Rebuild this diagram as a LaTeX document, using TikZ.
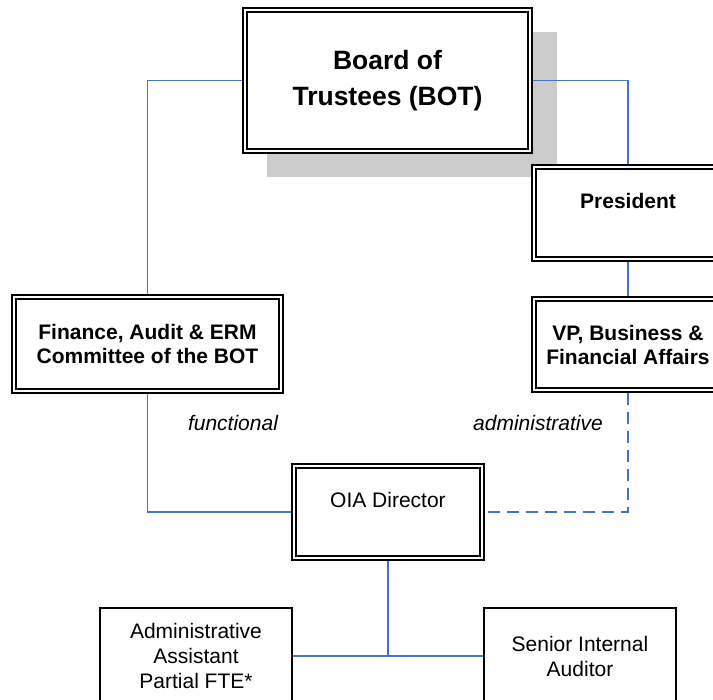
\documentclass[tikz,border=0pt]{standalone}
\usepackage{fontspec}
\setmainfont{Liberation Sans}
\definecolor{linkblue}{RGB}{68,114,196}
\definecolor{shadowgray}{RGB}{204,204,204}

\begin{document}
\begin{tikzpicture}[x=1pt, y=-1pt,
    box/.style={draw, line width=1.5pt, align=center, inner sep=0pt,
        font=\fontsize{21}{25}\selectfont},
    dbox/.style={draw, fill=white, line width=1.2pt, align=center, inner sep=0pt,
        font=\bfseries\fontsize{21}{24}\selectfont,
        path picture={\draw[line width=2.4pt]
            ([shift={(3.8pt,3.8pt)}]path picture bounding box.south west) rectangle
            ([shift={(-3.8pt,-3.8pt)}]path picture bounding box.north east);}},
    link/.style={draw=linkblue, line width=1.5pt},
    tag/.style={font=\itshape\fontsize{21}{25}\selectfont}]
            \useasboundingbox (0, 0) rectangle (713, 700);

            \fill[shadowgray] (267, 32) rectangle (557, 177);

            \node[dbox,minimum width=289pt,minimum height=145pt,font=\bfseries\fontsize{26.5}{36}\selectfont] (BOT) at (387.5, 80.5) { Board of\\ Trustees (BOT) };
            \node[dbox,minimum width=192pt,minimum height=96pt] (PRES) at (628, 213) { President\\ \mbox{} };
            \node[dbox,minimum width=192pt,minimum height=95pt] (VP) at (628, 344.5) { VP, Business \&\\ Financial Affairs };
            \node[dbox,minimum width=271pt,minimum height=98pt] (FAC) at (147.5, 344) { Finance, Audit \& ERM\\ Committee of the BOT };
            \node[dbox,minimum width=192pt,minimum height=96pt,font=\fontsize{21}{24}\selectfont] (OIA) at (388, 512) { OIA Director\\ \mbox{} };

            \node[box,minimum width=192pt,minimum height=96pt] (AA) at (196, 656) { Administrative\\ Assistant\\ Partial FTE* };
            \node[box,minimum width=192pt,minimum height=96pt] (SIA) at (580, 656) { Senior Internal\\ Auditor };

            \node[tag] (FN) at (233, 423) { functional };
            \node[tag] (AD) at (538, 423) { administrative };

            \draw[link] (BOT.west) -| (FAC.north);
            \draw[link] (BOT.east) -| (PRES.north);
            \draw[link] (PRES) to (VP);
            \draw[link] (FAC.south) |- (OIA.west);
            \draw[link,dash pattern=on 12pt off 7pt] (VP.south) |- (OIA.east);
            \draw[link] (AA.east) to (SIA.west);
            \draw[link] (OIA.south) to (OIA.south |- AA.east);
        \end{tikzpicture}
\end{document}
